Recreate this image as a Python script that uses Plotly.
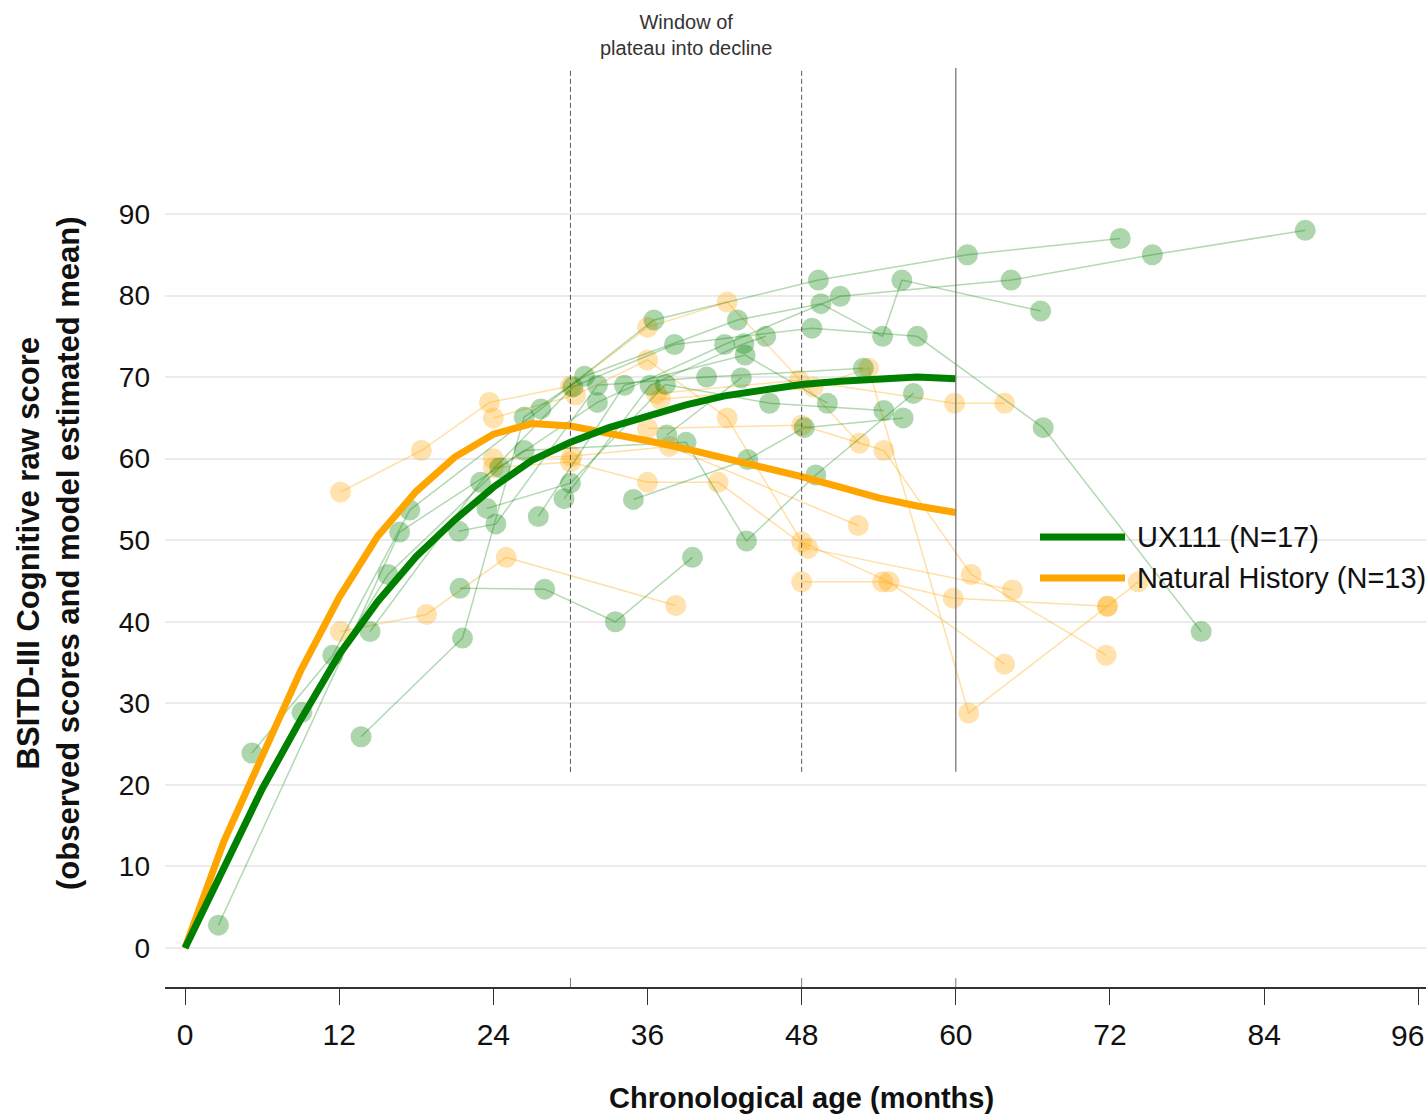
import plotly.graph_objects as go

# ---------------- data ----------------
# model estimated means (months -> raw score)
model_age = [0, 3, 6, 9, 12, 15, 18, 21, 24, 27, 30, 33, 36, 39, 42, 45, 48, 51, 54, 57, 60]
ux111_mean = [0, 10, 19.5, 28, 36, 42.5, 48, 52.5, 56.5, 59.8, 62, 63.8, 65.3, 66.6, 67.7, 68.5, 69.1, 69.5, 69.8, 70, 69.8]
nh_mean = [0, 13, 23.5, 34, 43, 50.5, 56, 60.2, 63, 64.3, 64, 63.2, 62.2, 61.2, 60.1, 58.9, 57.8, 56.5, 55.2, 54.2, 53.4]

# observed individual trajectories, UX111
ux111_ages = [
    [2.6, 16.7, 26.4, 39.0, 43.7, 49.1, 56.7],
    [5.2, 11.5, 17.5, 27.7, 36.5, 49.3, 60.9, 72.8],
    [9.1, 15.8, 24.5, 32.1, 42.0, 51.0, 64.3, 75.3, 87.2],
    [13.7, 21.6, 26.4, 31.1, 43.0, 49.5, 54.3, 55.8, 66.6],
    [14.4, 23.0, 30.2, 38.1, 48.8, 57.0, 66.8, 79.1],
    [21.4, 28.0, 33.5, 39.5],
    [21.3, 24.2, 32.1, 40.6, 52.8],
    [23.5, 30.0, 37.4, 45.5, 54.4],
    [27.5, 34.2, 43.6, 50.0],
    [29.5, 36.2, 43.5, 45.2],
    [34.9, 43.8, 48.2, 55.9],
    [37.5, 43.3],
]
ux111_scores = [
    [2.8, 51.0, 61.0, 62.0, 49.9, 58.0, 68.0],
    [23.9, 35.9, 53.7, 66.1, 77.0, 81.9, 85.0, 87.0],
    [28.9, 45.8, 58.9, 66.9, 74.0, 79.9, 81.9, 85.0, 88.0],
    [25.9, 38.0, 65.1, 70.1, 77.0, 79.0, 75.0, 81.9, 78.1],
    [38.8, 57.1, 68.8, 74.0, 76.0, 75.0, 63.8, 38.8],
    [44.1, 44.0, 40.0, 47.9],
    [51.1, 52.0, 69.0, 70.0, 71.1],
    [53.9, 57.0, 69.1, 66.8, 65.9],
    [52.9, 69.0, 72.7, 66.8],
    [55.1, 69.0, 74.1, 75.0],
    [55.0, 59.9, 63.8, 65.0],
    [62.9, 69.9],
]

# observed individual trajectories, Natural History
nh_ages = [
    [12.1, 18.4, 23.7, 30.0, 36.0, 42.2, 52.5],
    [12.1, 18.8, 25.0, 38.2],
    [24.0, 30.4, 36.0, 42.2, 48.0, 54.8, 63.8],
    [24.0, 30.1, 37.7, 52.4],
    [24.0, 30.0, 36.0, 41.5, 48.5, 64.4],
    [36.0, 48.0, 54.4, 61.2, 71.7],
    [36.7, 47.8, 59.9, 63.8],
    [37.0, 48.9, 53.2, 61.0, 71.8, 74.2],
    [48.0, 54.3, 59.8, 71.8],
]
nh_scores = [
    [55.9, 61.0, 66.9, 68.9, 76.1, 79.2, 61.9],
    [38.8, 40.9, 47.9, 42.0],
    [65.0, 67.8, 72.1, 65.0, 49.8, 44.9, 34.8],
    [60.0, 60.3, 61.5, 51.8],
    [58.9, 59.6, 57.1, 57.1, 49.0, 43.9],
    [63.7, 64.1, 61.0, 45.8, 35.9],
    [68.0, 69.6, 66.8, 66.8],
    [67.3, 68.8, 71.1, 28.8, 41.9, 44.9],
    [44.9, 44.9, 42.9, 41.9],
]

x_ticks = [0, 12, 24, 36, 48, 60, 72, 84, 96]
y_ticks = [0, 10, 20, 30, 40, 50, 60, 70, 80, 90]
window_marks = [30, 48]     # dashed lines
end_mark = 60               # solid line
legend_labels = ["UX111 (N=17)", "Natural History (N=13)"]

# ---------------- styles ----------------
GREEN = "#008000"
ORANGE = "#FFA500"
X_RANGE = [-1.56, 96.6]
Y_RANGE = [-4.78, 107.9]
FONT = "Liberation Sans, Arial, sans-serif"

fig = go.Figure()

for ages, scores in zip(nh_ages, nh_scores):
    fig.add_trace(go.Scatter(
        x=ages, y=scores, mode="lines+markers", showlegend=False, hoverinfo="skip",
        line=dict(color="rgba(255,165,0,0.35)", width=1.5),
        marker=dict(color="rgba(255,165,0,0.32)", size=21, line=dict(width=0)),
    ))

for ages, scores in zip(ux111_ages, ux111_scores):
    fig.add_trace(go.Scatter(
        x=ages, y=scores, mode="lines+markers", showlegend=False, hoverinfo="skip",
        line=dict(color="rgba(0,128,0,0.3)", width=1.5),
        marker=dict(color="rgba(0,128,0,0.32)", size=21, line=dict(width=0)),
    ))

fig.add_trace(go.Scatter(x=model_age, y=nh_mean, mode="lines", name=legend_labels[1],
                         showlegend=False, line=dict(color=ORANGE, width=7)))
fig.add_trace(go.Scatter(x=model_age, y=ux111_mean, mode="lines", name=legend_labels[0],
                         showlegend=False, line=dict(color=GREEN, width=7)))

# vertical reference lines
for xm in window_marks:
    fig.add_shape(type="line", xref="x", yref="y", x0=xm, x1=xm, y0=21.6, y1=Y_RANGE[1],
                  line=dict(color="#555555", width=1, dash="5px,3px"))
fig.add_shape(type="line", xref="x", yref="y", x0=end_mark, x1=end_mark, y0=21.6, y1=Y_RANGE[1],
              line=dict(color="#777777", width=1.3))
for xm in window_marks + [end_mark]:
    fig.add_shape(type="line", xref="x", yref="y", x0=xm, x1=xm, y0=Y_RANGE[0], y1=Y_RANGE[0] + 1.1,
                  line=dict(color="#777777", width=1))

# manual legend (long line samples)
PW = 1261.0
PH = 919.0
def px_x(p):
    return (p - 165) / PW
def px_y(p):
    return (987 - p) / PH

for label, col, yp in [(legend_labels[0], GREEN, 537), (legend_labels[1], ORANGE, 578)]:
    fig.add_shape(type="line", xref="paper", yref="paper", x0=px_x(1040), x1=px_x(1125),
                  y0=px_y(yp), y1=px_y(yp), line=dict(color=col, width=7))
    fig.add_annotation(xref="paper", yref="paper", x=px_x(1135), y=px_y(yp), text=label,
                       showarrow=False, xanchor="left", yanchor="middle",
                       font=dict(family=FONT, size=29, color="#111111"))

# window annotation
fig.add_annotation(xref="paper", yref="paper", x=px_x(686), y=px_y(35),
                   text="Window of<br>plateau into decline", showarrow=False,
                   xanchor="center", yanchor="middle",
                   font=dict(family=FONT, size=20, color="#333333"))

# axis titles
fig.add_annotation(xref="paper", yref="paper", x=px_x(48), y=px_y(553),
                   text="<b>BSITD-III Cognitive raw score</b><br><b>(observed scores and model estimated mean)</b>",
                   showarrow=False, textangle=-90, xanchor="center", yanchor="middle",
                   font=dict(family=FONT, size=31, color="#111111"))
fig.add_annotation(xref="paper", yref="paper", x=px_x(801), y=px_y(1098),
                   text="<b>Chronological age (months)</b>", showarrow=False,
                   xanchor="center", yanchor="middle",
                   font=dict(family=FONT, size=29, color="#111111"))

# last tick label, kept inside the page at the right edge
fig.add_annotation(xref="paper", yref="paper", x=1.0, y=px_y(1035), text=str(x_ticks[-1]),
                   showarrow=False, xanchor="right", yanchor="middle",
                   font=dict(family=FONT, size=30, color="#111111"))

fig.update_layout(
    width=1426, height=1118,
    margin=dict(l=165, r=0, t=68, b=131),
    paper_bgcolor="white", plot_bgcolor="white",
    font=dict(family=FONT, color="#111111"),
    showlegend=False,
)

fig.update_xaxes(range=X_RANGE, tickvals=x_ticks, ticktext=[str(v) for v in x_ticks],
                 showgrid=False, zeroline=False, showline=True, linecolor="#333333", linewidth=2,
                 ticks="outside", ticklen=16, tickwidth=1, tickcolor="#333333",
                 tickfont=dict(family=FONT, size=30, color="#111111"), ticklabelstandoff=4)
fig.update_yaxes(range=Y_RANGE, tickvals=y_ticks, ticktext=[str(v) for v in y_ticks],
                 showgrid=True, gridcolor="#ebebeb", gridwidth=2, zeroline=False, showline=False,
                 ticks="", tickfont=dict(family=FONT, size=28, color="#111111"),
                 ticklabelstandoff=14)

fig.write_html("out.html", config={"displayModeBar": False},
               post_script="document.body.style.margin='0';")
